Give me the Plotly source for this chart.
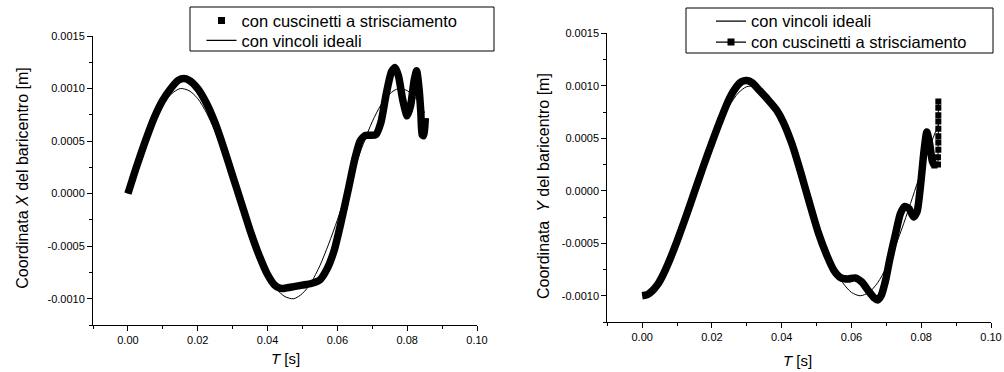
import plotly.graph_objects as go

# ---- X coordinate of the centre of mass ----
t_ideal = [0.0, 0.0025, 0.005, 0.0075, 0.01, 0.0125, 0.015, 0.0175, 0.02, 0.0225,
           0.025, 0.0275, 0.03, 0.0325, 0.035, 0.0375, 0.04, 0.0425, 0.045, 0.0475,
           0.05, 0.0525, 0.055, 0.0575, 0.06, 0.0625, 0.065, 0.0675, 0.07, 0.0725,
           0.075, 0.0775, 0.08, 0.0825, 0.085]
x_ideal = [0.0, 0.25e-3, 0.48e-3, 0.685e-3, 0.845e-3, 0.95e-3, 1.0e-3, 0.98e-3, 0.905e-3, 0.77e-3,
           0.59e-3, 0.37e-3, 0.125e-3, -0.125e-3, -0.37e-3, -0.59e-3, -0.77e-3, -0.905e-3, -0.98e-3, -1.0e-3,
           -0.95e-3, -0.845e-3, -0.685e-3, -0.48e-3, -0.25e-3, 0.0, 0.25e-3, 0.48e-3, 0.685e-3, 0.845e-3,
           0.95e-3, 1.0e-3, 0.98e-3, 0.905e-3, 0.77e-3]

t_bear_x = [0.0, 0.0025, 0.005, 0.0075, 0.01, 0.0125, 0.0145, 0.016, 0.0175, 0.02,
            0.0225, 0.025, 0.0275, 0.03, 0.0325, 0.035, 0.0375, 0.04, 0.042, 0.0435,
            0.045, 0.0475, 0.05, 0.0525, 0.055, 0.057, 0.059, 0.061, 0.063, 0.065,
            0.0665, 0.068, 0.0695, 0.071, 0.0725, 0.074, 0.0755, 0.0765, 0.0775, 0.0788,
            0.08, 0.081, 0.082, 0.0827, 0.0834, 0.0839, 0.0843, 0.0847, 0.085, 0.0852]
x_bear = [0.0, 0.26e-3, 0.5e-3, 0.72e-3, 0.89e-3, 1.01e-3, 1.08e-3, 1.095e-3, 1.08e-3, 1.0e-3,
          0.86e-3, 0.67e-3, 0.43e-3, 0.17e-3, -0.09e-3, -0.35e-3, -0.58e-3, -0.77e-3, -0.87e-3, -0.9e-3,
          -0.9e-3, -0.885e-3, -0.87e-3, -0.855e-3, -0.82e-3, -0.72e-3, -0.55e-3, -0.28e-3, 0.02e-3, 0.33e-3,
          0.5e-3, 0.555e-3, 0.555e-3, 0.56e-3, 0.68e-3, 0.95e-3, 1.16e-3, 1.2e-3, 1.12e-3, 0.88e-3,
          0.74e-3, 0.84e-3, 1.08e-3, 1.17e-3, 1.0e-3, 0.78e-3, 0.56e-3, 0.55e-3, 0.62e-3, 0.72e-3]

# ---- Y coordinate of the centre of mass ----
y_ideal = [-1.0e-3, -0.968e-3, -0.876e-3, -0.729e-3, -0.536e-3, -0.309e-3, -0.063e-3, 0.187e-3, 0.426e-3, 0.637e-3,
           0.809e-3, 0.93e-3, 0.992e-3, 0.992e-3, 0.93e-3, 0.809e-3, 0.637e-3, 0.426e-3, 0.187e-3, -0.063e-3,
           -0.309e-3, -0.536e-3, -0.729e-3, -0.876e-3, -0.968e-3, -1.0e-3, -0.968e-3, -0.876e-3, -0.729e-3, -0.536e-3,
           -0.309e-3, -0.063e-3, 0.187e-3, 0.426e-3, 0.637e-3]

t_bear_y = [0.0, 0.0015, 0.003, 0.0045, 0.006, 0.008, 0.01, 0.0125, 0.015, 0.0175,
            0.02, 0.0225, 0.025, 0.027, 0.0285, 0.03, 0.0315, 0.0335, 0.036, 0.0385,
            0.0405, 0.043, 0.0455, 0.048, 0.0505, 0.053, 0.055, 0.057, 0.059, 0.061,
            0.063, 0.065, 0.0665, 0.0675, 0.0685, 0.0698, 0.071, 0.0725, 0.074, 0.0752,
            0.0765, 0.0778, 0.0788, 0.0798, 0.0808, 0.0816, 0.0824, 0.0832, 0.0838,
            0.0848, 0.0848, 0.0849, 0.0849, 0.0849, 0.0849, 0.0849, 0.0849, 0.0849, 0.0849]
y_bear = [-1.0e-3, -0.99e-3, -0.95e-3, -0.89e-3, -0.8e-3, -0.65e-3, -0.48e-3, -0.25e-3, -0.01e-3, 0.23e-3,
          0.46e-3, 0.68e-3, 0.88e-3, 0.99e-3, 1.04e-3, 1.05e-3, 1.03e-3, 0.96e-3, 0.87e-3, 0.77e-3,
          0.65e-3, 0.44e-3, 0.17e-3, -0.12e-3, -0.4e-3, -0.62e-3, -0.76e-3, -0.83e-3, -0.84e-3, -0.83e-3,
          -0.87e-3, -0.96e-3, -1.02e-3, -1.04e-3, -1.0e-3, -0.85e-3, -0.65e-3, -0.43e-3, -0.22e-3, -0.15e-3,
          -0.17e-3, -0.25e-3, -0.2e-3, 0.05e-3, 0.38e-3, 0.56e-3, 0.45e-3, 0.28e-3, 0.24e-3,
          0.25e-3, 0.32e-3, 0.39e-3, 0.46e-3, 0.52e-3, 0.59e-3, 0.66e-3, 0.72e-3, 0.79e-3, 0.85e-3]
tail_start = 48  # last samples stack vertically and show as separate squares

# ---- axes ----
t_ticks = [0.0, 0.02, 0.04, 0.06, 0.08, 0.10]
t_labels = ["0.00", "0.02", "0.04", "0.06", "0.08", "0.10"]
v_ticks = [-0.001, -0.0005, 0.0, 0.0005, 0.001, 0.0015]
v_labels = ["-0.0010", "-0.0005", "0.0000", "0.0005", "0.0010", "0.0015"]

lbl_ideal = "con vincoli ideali"
lbl_bear = "con cuscinetti a strisciamento"

FONT = "Liberation Sans, Arial, sans-serif"
W, H = 1004, 372
THICK = 7.5

fig = go.Figure()

# left panel
fig.add_trace(go.Scatter(x=t_bear_x, y=x_bear, mode="lines", xaxis="x", yaxis="y",
                         line=dict(color="black", width=THICK, shape="spline", smoothing=0.6),
                         showlegend=False))
fig.add_trace(go.Scatter(x=t_ideal, y=x_ideal, mode="lines", xaxis="x", yaxis="y",
                         line=dict(color="black", width=1, shape="spline", smoothing=0.8),
                         showlegend=False))
fig.add_trace(go.Scatter(x=[None], y=[None], mode="markers", name=lbl_bear, legend="legend",
                         marker=dict(symbol="square", size=7, color="black")))
fig.add_trace(go.Scatter(x=[None], y=[None], mode="lines", name=lbl_ideal, legend="legend2",
                         line=dict(color="black", width=1.3)))

# right panel
fig.add_trace(go.Scatter(x=t_bear_y[:tail_start + 1], y=y_bear[:tail_start + 1], mode="lines",
                         xaxis="x2", yaxis="y2",
                         line=dict(color="black", width=THICK, shape="spline", smoothing=0.6),
                         showlegend=False))
fig.add_trace(go.Scatter(x=t_bear_y[tail_start:], y=y_bear[tail_start:], mode="lines+markers",
                         xaxis="x2", yaxis="y2",
                         line=dict(color="black", width=1),
                         marker=dict(symbol="square", size=6, color="black"),
                         showlegend=False))
fig.add_trace(go.Scatter(x=t_ideal, y=y_ideal, mode="lines", xaxis="x2", yaxis="y2",
                         line=dict(color="black", width=1, shape="spline", smoothing=0.8),
                         showlegend=False))
fig.add_trace(go.Scatter(x=[None], y=[None], mode="lines", name=lbl_ideal, legend="legend3",
                         line=dict(color="black", width=1.3)))
fig.add_trace(go.Scatter(x=[None], y=[None], mode="lines+markers", name=lbl_bear, legend="legend4",
                         line=dict(color="black", width=1.3),
                         marker=dict(symbol="square", size=7, color="black")))

xax = dict(range=[-0.01, 0.10], tickmode="array", tickvals=t_ticks, ticktext=t_labels,
           showline=True, linecolor="black", linewidth=1, ticks="outside", ticklen=5,
           tickcolor="black", showgrid=False, zeroline=False, automargin=False,
           tickfont=dict(family=FONT, size=11, color="black"),
           minor=dict(dtick=0.01, tick0=0, ticks="outside", ticklen=3, tickcolor="black"))
yax = dict(range=[-0.00125, 0.0015], tickmode="array", tickvals=v_ticks, ticktext=v_labels,
           showline=True, linecolor="black", linewidth=1, ticks="outside", ticklen=5,
           tickcolor="black", showgrid=False, zeroline=False, automargin=False,
           tickfont=dict(family=FONT, size=11, color="black"),
           minor=dict(dtick=0.00025, tick0=0, ticks="outside", ticklen=3, tickcolor="black"))

# one legend per row so each entry sits where it belongs inside its frame
leg = dict(bgcolor="rgba(0,0,0,0)", borderwidth=0, xanchor="left", yanchor="middle",
           font=dict(family=FONT, size=16.5, color="black"))

fig.update_layout(
    template="none",
    width=W, height=H, margin=dict(l=0, r=0, t=0, b=0),
    paper_bgcolor="white", plot_bgcolor="white",
    xaxis=dict(xax, domain=[93 / W, 477 / W], anchor="y"),
    yaxis=dict(yax, domain=[47 / H, 336 / H], anchor="x"),
    xaxis2=dict(xax, domain=[607.3 / W, 991 / W], anchor="y2"),
    yaxis2=dict(yax, domain=[50 / H, 338.7 / H], anchor="x2"),
    legend=dict(leg, x=201.5 / W, y=1 - 20.7 / H),
    legend2=dict(leg, x=201.5 / W, y=1 - 40.7 / H),
    legend3=dict(leg, x=711 / W, y=1 - 21.3 / H),
    legend4=dict(leg, x=711 / W, y=1 - 42.3 / H),
    showlegend=True,
    shapes=[
        dict(type="rect", xref="paper", yref="paper", x0=190 / W, x1=494 / W,
             y0=1 - 51 / H, y1=1 - 7 / H, line=dict(color="black", width=1)),
        dict(type="rect", xref="paper", yref="paper", x0=686 / W, x1=993 / W,
             y0=1 - 53 / H, y1=1 - 8 / H, line=dict(color="black", width=1)),
    ],
    annotations=[
        dict(text="Coordinata <i>X</i> del baricentro [m]", xref="paper", yref="paper",
             x=21.7 / W, y=1 - 178 / H, textangle=-90, showarrow=False,
             xanchor="center", yanchor="middle",
             font=dict(family=FONT, size=16, color="black")),
        dict(text="<i>T</i> [s]", xref="paper", yref="paper",
             x=285 / W, y=1 - 358 / H, showarrow=False,
             xanchor="center", yanchor="middle",
             font=dict(family=FONT, size=15, color="black")),
        dict(text="Coordinata  <i>Y</i> del baricentro [m]", xref="paper", yref="paper",
             x=543 / W, y=1 - 186 / H, textangle=-90, showarrow=False,
             xanchor="center", yanchor="middle",
             font=dict(family=FONT, size=16, color="black")),
        dict(text="<i>T</i> [s]", xref="paper", yref="paper",
             x=797 / W, y=1 - 360 / H, showarrow=False,
             xanchor="center", yanchor="middle",
             font=dict(family=FONT, size=15, color="black")),
    ],
)

fig.write_html("out.html")
